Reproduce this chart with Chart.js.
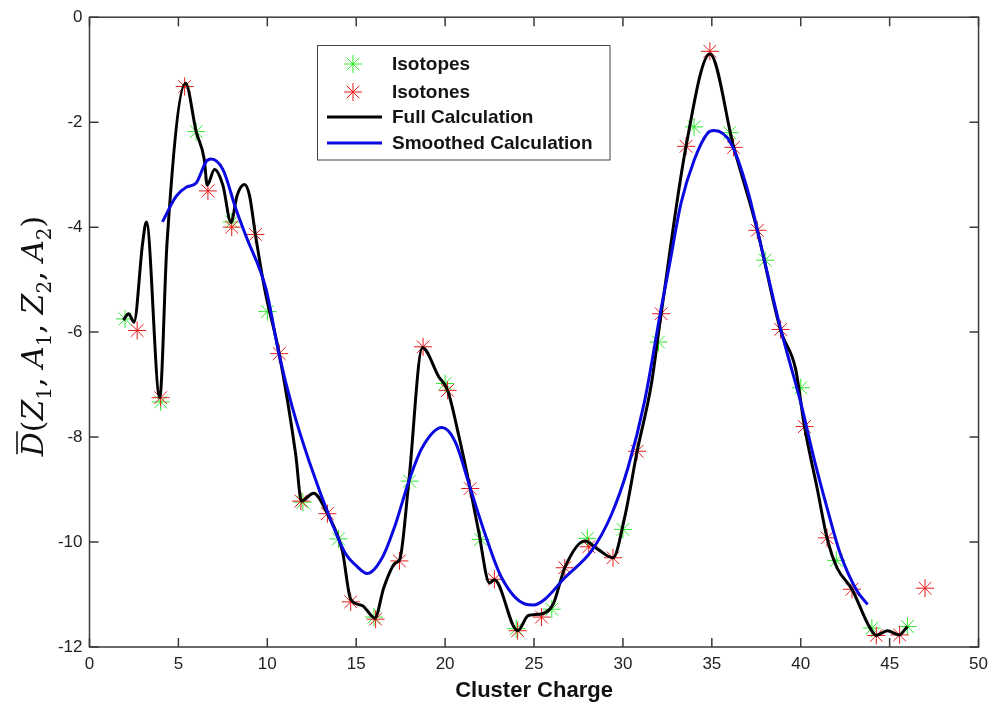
<!DOCTYPE html>
<html>
<head>
<meta charset="utf-8">
<script src="https://cdn.jsdelivr.net/npm/chart.js@4.4.0/dist/chart.umd.min.js"></script>
<style>
html, body { margin: 0; padding: 0; background: #fff; }
#wrap { width: 995px; height: 710px; position: relative; }
</style>
</head>
<body>
<div id="wrap"><canvas id="chart"></canvas></div>
<script>
// ---- data ----
const isotopeZ = [2, 4, 6, 8, 10, 12, 14, 16, 18, 20, 22, 24, 26, 28, 30, 32, 34, 36, 38, 40, 42, 44, 46];
const isotopeD = [-5.75, -7.33, -2.18, -3.90, -5.61, -9.24, -9.94, -11.43, -8.84, -6.98, -9.95, -11.65, -11.28,
                  -9.93, -9.76, -6.19, -2.09, -2.20, -4.63, -7.06, -10.35, -11.64, -11.61];

const isotoneZ = [2.68, 4.0, 5.35, 6.66, 8.0, 9.33, 10.67, 11.89, 13.38, 14.69, 16.09, 17.43, 18.76, 20.14, 21.41,
                  22.77, 24.08, 25.42, 26.73, 28.08, 29.44, 30.8, 32.15, 33.55, 34.89, 36.22, 37.56, 38.87, 40.21,
                  41.48, 42.88, 44.25, 45.56, 46.99];
const isotoneD = [-5.97, -7.25, -1.32, -3.31, -4.0, -4.14, -6.41, -9.22, -9.46, -11.14, -11.47, -10.36, -6.28, -7.11,
                  -8.98, -10.71, -11.69, -11.43, -10.49, -10.09, -10.30, -8.27, -5.65, -2.46, -0.65, -2.48, -4.06,
                  -5.95, -7.80, -9.92, -10.90, -11.78, -11.77, -10.88];

const fullZ = [1.9, 2.2, 2.5, 2.99, 3.2, 3.95, 4.36, 5.4, 6.0, 6.45, 6.62, 7.03, 7.5, 7.96, 8.3, 8.71, 9.0, 9.33, 9.85,
               10.67, 11.6, 11.92, 12.6, 13.38, 14.22, 14.69, 15.34, 16.05, 16.55, 17.2, 17.45, 17.96, 18.72, 19.64,
               20.14, 20.76, 21.41, 21.88, 22.5, 22.77, 24.08, 24.68, 25.42, 26.08, 26.73, 27.85, 28.6, 29.44, 30.09,
               30.8, 31.59, 32.15, 33.55, 34.89, 36.22, 37.56, 38.87, 39.71, 40.21, 40.92, 41.48, 42.04, 42.88, 43.82,
               44.25, 44.87, 45.56, 45.87, 46.0];
const fullD = [-5.77, -5.65, -5.81, -4.3, -3.9, -7.25, -4.3, -1.26, -2.18, -2.7, -3.2, -2.9, -3.2, -3.91, -3.4, -3.19,
               -3.4, -4.14, -5.18, -6.41, -8.34, -9.22, -9.07, -9.46, -10.17, -11.09, -11.21, -11.45, -10.87, -10.4,
               -10.33, -8.84, -6.3, -6.85, -7.11, -7.96, -8.98, -9.79, -10.78, -10.72, -11.69, -11.4, -11.37, -11.18,
               -10.49, -9.98, -10.14, -10.30, -9.54, -8.27, -7.01, -5.65, -2.46, -0.70, -2.46, -4.06, -5.97, -6.70,
               -7.80, -8.97, -9.92, -10.49, -10.90, -11.59, -11.78, -11.69, -11.77, -11.66, -11.61];

const smoothZ = [4.1, 4.88, 5.44, 6.0, 6.56, 6.84, 7.5, 8.24, 8.8, 9.93, 10.67, 11.42, 12.35, 13.66, 14.41, 15.0, 15.62,
                 16.46, 17.21, 17.96, 18.7, 19.82, 20.57, 21.41, 22.25, 23.18, 24.49, 25.0, 25.61, 26.73, 28.23, 29.35,
                 30.28, 31.21, 32.15, 32.6, 33.27, 34.02, 34.76, 35.13, 36.07, 37.0, 37.94, 38.87, 39.99, 40.74, 41.48,
                 42.23, 43.16, 43.76];
const smoothD = [-3.90, -3.41, -3.24, -3.16, -2.75, -2.70, -2.90, -3.66, -4.17, -5.18, -6.44, -7.45, -8.46, -9.66,
                 -10.23, -10.45, -10.6, -10.3, -9.66, -8.84, -8.21, -7.82, -8.09, -8.97, -9.85, -10.68, -11.18, -11.2,
                 -11.09, -10.68, -10.17, -9.48, -8.59, -7.33, -5.55, -4.75, -3.54, -2.71, -2.21, -2.16, -2.40, -3.28,
                 -4.61, -5.94, -7.33, -8.40, -9.35, -10.23, -10.93, -11.19];

const xTitle = 'Cluster Charge';

const toXY = (xs, ys) => xs.map((x, i) => ({ x: x, y: ys[i] }));

const GREEN = '#2ee82e';
const RED = '#e81a1a';
const BLUE = '#0a0ae0';

// ---- box with inward ticks, like a matlab axes ----
const boxAxes = {
    id: 'boxAxes',
    beforeDatasetsDraw(chart) {
        const { ctx, chartArea: a, scales: { x, y } } = chart;
        ctx.save();
        ctx.strokeStyle = '#3a3a3a';
        ctx.lineWidth = 1.5;
        ctx.strokeRect(a.left, a.top, a.right - a.left, a.bottom - a.top);
        ctx.beginPath();
        x.ticks.forEach(t => {
            const px = x.getPixelForValue(t.value);
            ctx.moveTo(px, a.bottom); ctx.lineTo(px, a.bottom - 9);
            ctx.moveTo(px, a.top); ctx.lineTo(px, a.top + 9);
        });
        y.ticks.forEach(t => {
            const py = y.getPixelForValue(t.value);
            ctx.moveTo(a.left, py); ctx.lineTo(a.left + 9, py);
            ctx.moveTo(a.right, py); ctx.lineTo(a.right - 9, py);
        });
        ctx.stroke();
        ctx.restore();
    }
};

function starMark(ctx, x, y, r, color) {
    const d = r * Math.SQRT1_2;
    ctx.strokeStyle = color;
    ctx.lineWidth = 1;
    ctx.beginPath();
    ctx.moveTo(x - r, y); ctx.lineTo(x + r, y);
    ctx.moveTo(x, y - r); ctx.lineTo(x, y + r);
    ctx.moveTo(x - d, y - d); ctx.lineTo(x + d, y + d);
    ctx.moveTo(x - d, y + d); ctx.lineTo(x + d, y - d);
    ctx.stroke();
}

// ---- legend box inside the plot ----
const boxLegend = {
    id: 'boxLegend',
    afterDraw(chart) {
        const ctx = chart.ctx;
        const ds = chart.data.datasets;
        ctx.save();
        ctx.fillStyle = '#fff';
        ctx.fillRect(317.5, 45.5, 292.5, 114.5);
        ctx.strokeStyle = '#444';
        ctx.lineWidth = 1;
        ctx.strokeRect(317.5, 45.5, 292.5, 114.5);
        const rows = [64, 92, 117, 143];
        ds.forEach((d, i) => {
            const yy = rows[i];
            if (d.showLine === false) {
                starMark(ctx, 353, yy, 9, d.borderColor);
            } else {
                ctx.strokeStyle = d.borderColor;
                ctx.lineWidth = 3;
                ctx.beginPath();
                ctx.moveTo(327, yy); ctx.lineTo(382, yy);
                ctx.stroke();
            }
            ctx.fillStyle = '#141414';
            ctx.font = 'bold 19px "Liberation Sans", Arial, sans-serif';
            ctx.textBaseline = 'middle';
            ctx.textAlign = 'left';
            ctx.fillText(d.label, 392, yy + 1);
        });
        ctx.restore();
    }
};

// ---- y title: D-bar(Z1, A1, Z2, A2) ----
const yTitle = {
    id: 'yTitle',
    afterDraw(chart) {
        const ctx = chart.ctx;
        const big = 'italic 30px "DejaVu Serif", serif';
        const up = '30px "DejaVu Serif", serif';
        const sub = '20px "DejaVu Serif", serif';
        const parts = [
            ['D', big, 0], ['(', up, 0], ['Z', big, 0], ['1', sub, 8], [', ', up, 0],
            ['A', big, 0], ['1', sub, 8], [', ', up, 0], ['Z', big, 0], ['2', sub, 8], [', ', up, 0],
            ['A', big, 0], ['2', sub, 8], [')', up, 0]
        ];
        ctx.save();
        let total = 0;
        parts.forEach(p => { ctx.font = p[1]; total += ctx.measureText(p[0]).width; });
        ctx.translate(43, 336);
        ctx.rotate(-Math.PI / 2);
        ctx.fillStyle = '#111';
        ctx.textBaseline = 'alphabetic';
        let cx = -total / 2;
        parts.forEach((p, i) => {
            ctx.font = p[1];
            ctx.fillText(p[0], cx, p[2]);
            const w = ctx.measureText(p[0]).width;
            if (i === 0) {
                ctx.strokeStyle = '#111';
                ctx.lineWidth = 1.6;
                ctx.beginPath();
                ctx.moveTo(cx + 2, -26); ctx.lineTo(cx + w + 1, -26);
                ctx.stroke();
            }
            cx += w;
        });
        ctx.restore();
    }
};

const tickFont = { family: '"Liberation Sans", Arial, sans-serif', size: 17 };

new Chart(document.getElementById('chart'), {
    type: 'scatter',
    data: {
        datasets: [
            {
                label: 'Isotopes',
                data: toXY(isotopeZ, isotopeD),
                showLine: false,
                pointStyle: 'star',
                pointRadius: 9,
                borderColor: GREEN,
                backgroundColor: GREEN,
                pointBorderWidth: 1,
                order: 4
            },
            {
                label: 'Isotones',
                data: toXY(isotoneZ, isotoneD),
                showLine: false,
                pointStyle: 'star',
                pointRadius: 9,
                borderColor: RED,
                backgroundColor: RED,
                pointBorderWidth: 1,
                order: 3
            },
            {
                label: 'Full Calculation',
                data: toXY(fullZ, fullD),
                showLine: true,
                borderColor: '#000',
                borderWidth: 3,
                pointRadius: 0,
                cubicInterpolationMode: 'monotone',
                order: 2
            },
            {
                label: 'Smoothed Calculation',
                data: toXY(smoothZ, smoothD),
                showLine: true,
                borderColor: BLUE,
                borderWidth: 3,
                pointRadius: 0,
                cubicInterpolationMode: 'monotone',
                order: 1
            }
        ]
    },
    options: {
        responsive: true,
        maintainAspectRatio: false,
        animation: false,
        layout: { padding: { left: 0, top: 13, right: 13, bottom: 0 } },
        plugins: { legend: { display: false }, tooltip: { enabled: false } },
        scales: {
            x: {
                type: 'linear',
                min: 0, max: 50,
                ticks: { stepSize: 5, font: tickFont, color: '#222', padding: 7 },
                grid: { display: false, drawTicks: false },
                border: { display: false },
                title: {
                    display: true,
                    text: xTitle,
                    color: '#111',
                    font: { family: '"Liberation Sans", Arial, sans-serif', size: 22, weight: 'bold' },
                    padding: { top: 0, bottom: 6 }
                },
                afterFit: s => { s.height = 63; }
            },
            y: {
                min: -12, max: 0,
                ticks: { stepSize: 2, font: tickFont, color: '#222', padding: 7 },
                grid: { display: false, drawTicks: false },
                border: { display: false },
                afterFit: s => { s.width = 89.5; }
            }
        }
    },
    plugins: [boxAxes, boxLegend, yTitle]
});
</script>
</body>
</html>
